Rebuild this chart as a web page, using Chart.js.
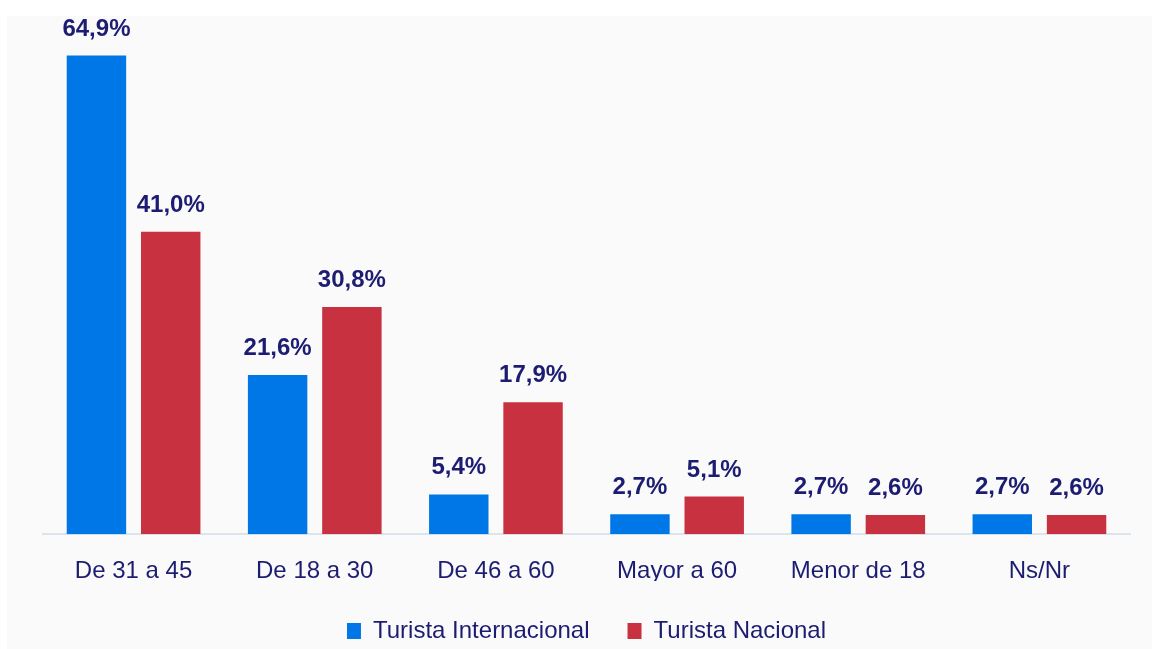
<!DOCTYPE html>
<html>
<head>
<meta charset="utf-8">
<script src="https://cdn.jsdelivr.net/npm/chart.js@4.4.1/dist/chart.umd.min.js"></script>
<style>
    html, body { margin: 0; padding: 0; background: #ffffff; overflow: hidden; }
    .frame {
        position: absolute; left: 7px; top: 16px; right: 0; bottom: 0;
        background: #fafafa;
    }
    #wrap { position: absolute; left: 0; top: 0; width: 1152px; height: 653px; }
</style>
</head>
<body>
<div class="frame"></div>
<div id="wrap"><canvas id="ageChart"></canvas></div>
<script>
// ===============================
// DATOS
// ===============================
const categories = ["De 31 a 45", "De 18 a 30", "De 46 a 60", "Mayor a 60", "Menor de 18", "Ns/Nr"];
const internacional = [64.9, 21.6, 5.4, 2.7, 2.7, 2.7];
const nacional = [41.0, 30.8, 17.9, 5.1, 2.6, 2.6];
const seriesNames = ["Turista Internacional", "Turista Nacional"];

const FONT = "'Liberation Sans', Arial, sans-serif";
const NAVY = "#1c1c72";

function formatPct(v) {
    return v.toFixed(1).replace(".", ",") + "%";
}

// etiquetas encima de cada barra
const valueLabels = {
    id: "valueLabels",
    afterDatasetsDraw(chart) {
        const ctx = chart.ctx;
        ctx.save();
        ctx.font = "bold 24px " + FONT;
        ctx.fillStyle = NAVY;
        ctx.textAlign = "center";
        ctx.textBaseline = "alphabetic";
        chart.data.datasets.forEach((ds, i) => {
            chart.getDatasetMeta(i).data.forEach((bar, j) => {
                ctx.fillText(formatPct(ds.data[j]), bar.x, bar.y - 20);
            });
        });
        ctx.restore();
    }
};

new Chart(document.getElementById("ageChart"), {
    type: "bar",
    data: {
        labels: categories,
        datasets: [
            { label: seriesNames[0], data: internacional, backgroundColor: "#0077e6" },
            { label: seriesNames[1], data: nacional, backgroundColor: "#c83240" }
        ]
    },
    options: {
        responsive: true,
        maintainAspectRatio: false,
        animation: false,
        layout: { padding: { left: 43, right: 22, top: 18, bottom: 0 } },
        datasets: {
            bar: { barPercentage: 0.8, categoryPercentage: 0.82 }
        },
        scales: {
            x: {
                grid: { display: false },
                border: { display: true, color: "#dce5ee", width: 2 },
                ticks: {
                    color: NAVY,
                    font: { family: FONT, size: 24 },
                    padding: 15
                },
                // acercar la leyenda a las etiquetas
                afterFit(scale) {
                    scale.height -= 20;
                }
            },
            y: {
                display: false,
                min: 0,
                max: 70
            }
        },
        plugins: {
            legend: {
                position: "bottom",
                labels: {
                    color: NAVY,
                    font: { family: FONT, size: 24 },
                    boxWidth: 14,
                    boxHeight: 16,
                    padding: 38
                }
            },
            tooltip: { enabled: false }
        }
    },
    plugins: [valueLabels]
});
</script>
</body>
</html>
